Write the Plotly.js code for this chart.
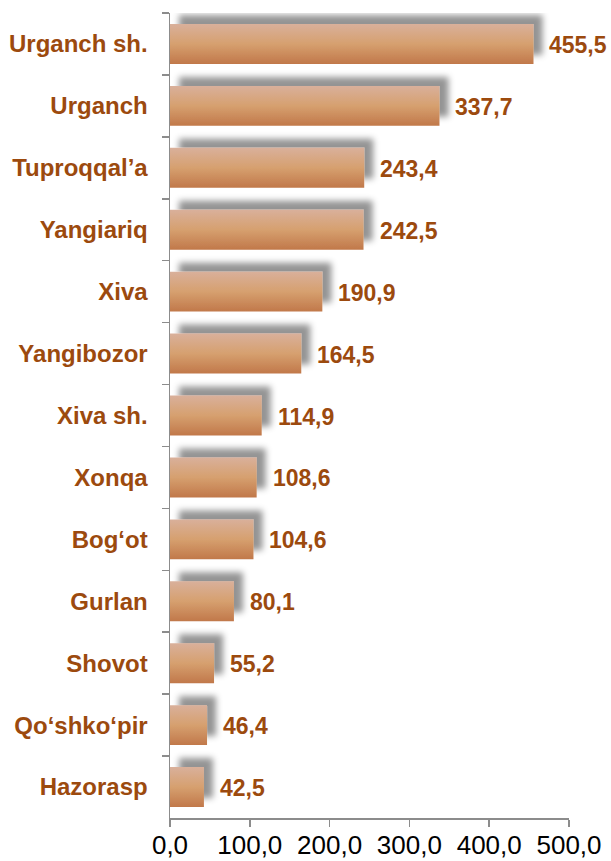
<!DOCTYPE html>
<html>
<head>
<meta charset="utf-8">
<script src="https://cdn.plot.ly/plotly-3.0.1.min.js"></script>
<style>
  html, body { margin: 0; padding: 0; background: #fff; }
  #chart { width: 611px; height: 861px; }
</style>
</head>
<body>
<div id="chart"></div>
<script>
// Data (top to bottom)
const districts = ["Urganch sh.", "Urganch", "Tuproqqal’a", "Yangiariq", "Xiva", "Yangibozor",
  "Xiva sh.", "Xonqa", "Bog‘ot", "Gurlan", "Shovot", "Qo‘shko‘pir", "Hazorasp"];
const values = [455.5, 337.7, 243.4, 242.5, 190.9, 164.5, 114.9, 108.6, 104.6, 80.1, 55.2, 46.4, 42.5];
const xTicks = [0, 100, 200, 300, 400, 500];

const labelColor = "#9C4A0E";
const axisColor = "#8C8C8C";

const fmt = v => v.toFixed(1).replace(".", ",");

const trace = {
  type: "bar",
  orientation: "h",
  x: values,
  y: districts,
  width: 0.645,
  marker: { color: "#D6A070", line: { width: 0 } },
  hoverinfo: "none"
};

const annotations = values.map((v, i) => ({
  x: v, y: districts[i], xref: "x", yref: "y",
  text: fmt(v), showarrow: false, xanchor: "left", yanchor: "middle",
  xshift: 14, yshift: -1,
  font: { family: "Arial, Liberation Sans, sans-serif", size: 23, color: labelColor, weight: "bold" }
}));

const layout = {
  width: 611, height: 861,
  margin: { l: 170, r: 42, t: 13, b: 43 },
  paper_bgcolor: "#fff", plot_bgcolor: "#fff",
  showlegend: false,
  separators: ", ",
  font: { family: "Arial, Liberation Sans, sans-serif" },
  xaxis: {
    range: [0, 500],
    tickvals: xTicks,
    ticktext: xTicks.map(fmt),
    showgrid: false, zeroline: false,
    showline: true, linecolor: axisColor, linewidth: 1.5,
    ticks: "outside", ticklen: 7, tickcolor: axisColor, tickwidth: 1.5,
    tickfont: { size: 26, color: "#000" },
    ticklabelstandoff: -4,
    fixedrange: true
  },
  yaxis: {
    autorange: "reversed",
    type: "category",
    showgrid: false, zeroline: false,
    showline: true, linecolor: axisColor, linewidth: 1.5,
    ticks: "outside", ticklen: 7, tickcolor: axisColor, tickwidth: 1.5,
    tickson: "boundaries",
    tickfont: { size: 24, color: labelColor, weight: "bold" },
    ticklabelstandoff: 16,
    fixedrange: true
  },
  annotations: annotations
};

Plotly.newPlot("chart", [trace], layout, { staticPlot: true, displayModeBar: false }).then(gd => {
  const svgNS = "http://www.w3.org/2000/svg";
  const svg = gd.querySelector("svg.main-svg");
  let defs = svg.querySelector("defs");
  if (!defs) { defs = document.createElementNS(svgNS, "defs"); svg.insertBefore(defs, svg.firstChild); }

  const grad = document.createElementNS(svgNS, "linearGradient");
  grad.setAttribute("id", "barGrad");
  grad.setAttribute("x1", "0"); grad.setAttribute("y1", "0");
  grad.setAttribute("x2", "0"); grad.setAttribute("y2", "1");
  [["0", "#D9B09B"], ["0.5", "#D6A06F"], ["1", "#C1784A"]].forEach(([o, c]) => {
    const s = document.createElementNS(svgNS, "stop");
    s.setAttribute("offset", o); s.setAttribute("stop-color", c);
    grad.appendChild(s);
  });
  defs.appendChild(grad);

  const filt = document.createElementNS(svgNS, "filter");
  filt.setAttribute("id", "barShadow");
  filt.setAttribute("filterUnits", "userSpaceOnUse");
  filt.setAttribute("x", "-200"); filt.setAttribute("y", "-200");
  filt.setAttribute("width", "1200"); filt.setAttribute("height", "1400");
  filt.innerHTML =
    '<feGaussianBlur in="SourceAlpha" stdDeviation="3.2" result="b"/>' +
    '<feOffset in="b" dx="9" dy="-9" result="o"/>' +
    '<feFlood flood-color="#000" flood-opacity="0.42" result="f"/>' +
    '<feComposite in="f" in2="o" operator="in" result="s"/>' +
    '<feMerge><feMergeNode in="s"/><feMergeNode in="SourceGraphic"/></feMerge>';
  defs.appendChild(filt);

  gd.querySelectorAll(".barlayer .point path").forEach(p => { p.style.fill = "url(#barGrad)"; });
  const bl = gd.querySelector(".barlayer");
  if (bl) bl.setAttribute("filter", "url(#barShadow)");
});
</script>
</body>
</html>
